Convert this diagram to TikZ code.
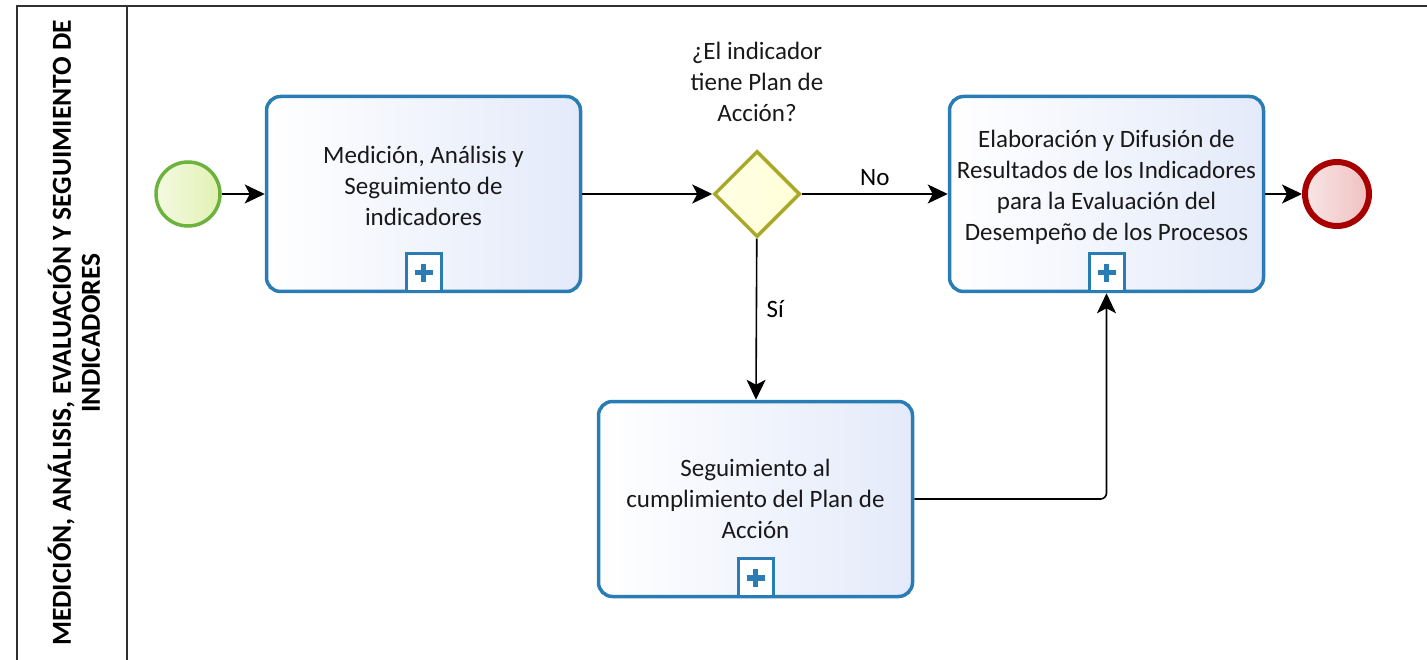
\documentclass[tikz,border=0pt]{standalone}
\usepackage{fontspec}
\setmainfont{Carlito}
\usetikzlibrary{shapes.geometric,arrows.meta}

\definecolor{taskblue}{HTML}{2A7DB4}
\definecolor{taskfill}{HTML}{E4EAFA}
\definecolor{startgreen}{HTML}{6CB33E}
\definecolor{startfill}{HTML}{E2F1B4}
\definecolor{endred}{HTML}{A80000}
\definecolor{endfill}{HTML}{F0C0C0}
\definecolor{gwolive}{HTML}{A9A828}
\definecolor{gwfill}{HTML}{FFFFD6}
\definecolor{lanegray}{HTML}{303030}

\begin{document}
\begin{tikzpicture}[x=1pt, y=-1pt,
  font=\fontsize{25}{31}\selectfont,
  task/.style={draw=taskblue, line width=3.5pt, rounded corners=14pt,
    minimum width=314pt, minimum height=195pt, left color=white, right color=taskfill},
  tasktext/.style={align=center, text=black!90},
  marker/.style={draw=taskblue, line width=3pt, fill=white, inner sep=0pt,
    minimum width=35pt, minimum height=38pt,
    path picture={\draw[taskblue, line width=5.5pt]
      ([yshift=-9pt]path picture bounding box.center) -- ([yshift=9pt]path picture bounding box.center)
      ([xshift=-9pt]path picture bounding box.center) -- ([xshift=9pt]path picture bounding box.center);}},
  flow/.style={black, line width=1.6pt, -{Stealth[length=20pt, width=19pt, inset=5pt]}}
]
  \useasboundingbox (0,0) rectangle (1427,660);
  % lane
  \draw[lanegray, line width=2pt] (17,660) -- (17,6) -- (1427,6);
  \draw[lanegray, line width=2pt] (127,6) -- (127,660);
  \node[rotate=90, align=center, font=\bfseries\fontsize{27.5}{29}\selectfont] (lane) at (74,333)
    {MEDICIÓN, ANÁLISIS, EVALUACIÓN Y SEGUIMIENTO DE\\INDICADORES};

  % events and gateway
  \node[circle, draw=startgreen, line width=3.5pt, minimum size=64pt, inner sep=0pt,
    left color=startfill!40, right color=startfill] (start) at (188,194) {};
  \node[circle, draw=endred, line width=6pt, minimum size=64pt, inner sep=0pt,
    left color=endfill!40, right color=endfill] (end) at (1337,194) {};
  \node[diamond, draw=gwolive, line width=3.5pt, minimum width=86pt, minimum height=86pt,
    inner sep=0pt, left color=gwfill!60, right color=gwfill] (gw) at (757,194) {};
  \node[tasktext] (gwq) at (757,82) {¿El indicador\\tiene Plan de\\Acción?};

  % tasks
  \node[task] (t1) at (423.5,194) {};
  \node[tasktext] (t1txt) at (423.5,186) {Medición, Análisis y\\Seguimiento de\\indicadores};
  \node[marker, anchor=south] (m1) at (t1.south) {};

  \node[task] (t2) at (755.5,499) {};
  \node[tasktext] (t2txt) at (755.5,499) {Seguimiento al\\cumplimiento del Plan de\\Acción};
  \node[marker, anchor=south] (m2) at (t2.south) {};

  \node[task] (t3) at (1106.5,194) {};
  \node[tasktext] (t3txt) at (1106.5,187) {Elaboración y Difusión de\\Resultados de los Indicadores\\para la Evaluación del\\Desempeño de los Procesos};
  \node[marker, anchor=south] (m3) at (t3.south) {};

  % flows
  \draw[flow] (start) -- (t1);
  \draw[flow] (t1) -- (gw);
  \draw[flow] (gw) -- node[above=4pt] (no) {No} (t3);
  \draw[flow] (gw) -- node[right=6pt, pos=0.44] (si) {Sí} (t2);
  \draw[flow] (t3) -- (end);
  \draw[flow, rounded corners=6pt] (t2) -| (m3);
\end{tikzpicture}
\end{document}
